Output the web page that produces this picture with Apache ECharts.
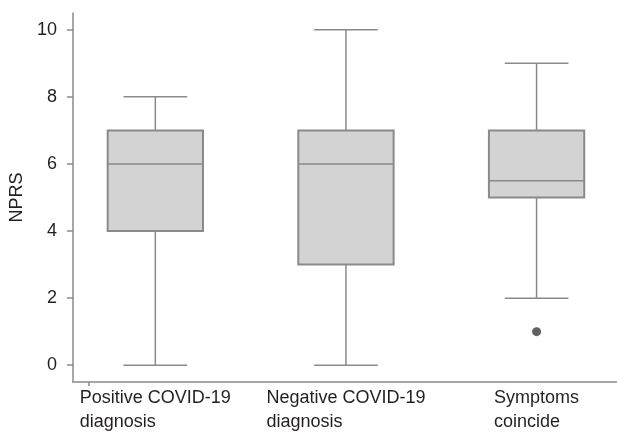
<!DOCTYPE html>
<html>
<head>
<meta charset="utf-8">
<script src="https://cdn.jsdelivr.net/npm/echarts@6/dist/echarts.min.js"></script>
<style>html,body{margin:0;padding:0;background:#fff;}#c{width:617px;height:434px;}</style>
</head>
<body>
<div id="c"></div>
<script>
// Data
var categories = ['Positive COVID-19\ndiagnosis', 'Negative COVID-19\ndiagnosis', 'Symptoms\ncoincide'];
var positions = [1, 2, 3];
var mins = [0, 0, 2];
var q1s = [4, 3, 5];
var medians = [6, 6, 5.5];
var q3s = [7, 7, 7];
var maxs = [8, 10, 9];
var outliers = [[3, 1]];
var yTicks = [0, 2, 4, 6, 8, 10];

var boxData = positions.map(function (p, i) {
  return [p, mins[i], q1s[i], medians[i], q3s[i], maxs[i]];
});

var BOX_HALF = 0.25, CAP_HALF = 0.167;
var lineCol = '#8a8a8a', fillCol = '#d3d3d3', textCol = '#231f20';

function renderItem(params, api) {
  var x = api.value(0);
  var mn = api.value(1), q1 = api.value(2), md = api.value(3), q3 = api.value(4), mx = api.value(5);
  var c = function (xx, yy) { return api.coord([xx, yy]); };
  var lt = c(x - BOX_HALF, q3), rb = c(x + BOX_HALF, q1);
  var ls = { stroke: lineCol, lineWidth: 1.5 };
  var pMin = c(x, mn), pQ1 = c(x, q1), pQ3 = c(x, q3), pMax = c(x, mx);
  var capMinL = c(x - CAP_HALF, mn), capMinR = c(x + CAP_HALF, mn);
  var capMaxL = c(x - CAP_HALF, mx), capMaxR = c(x + CAP_HALF, mx);
  var mL = c(x - BOX_HALF, md), mR = c(x + BOX_HALF, md);
  return {
    type: 'group',
    children: [
      { type: 'line', shape: { x1: pMin[0], y1: pMin[1], x2: pQ1[0], y2: pQ1[1] }, style: ls },
      { type: 'line', shape: { x1: pQ3[0], y1: pQ3[1], x2: pMax[0], y2: pMax[1] }, style: ls },
      { type: 'line', shape: { x1: capMinL[0], y1: capMinL[1], x2: capMinR[0], y2: capMinR[1] }, style: ls },
      { type: 'line', shape: { x1: capMaxL[0], y1: capMaxL[1], x2: capMaxR[0], y2: capMaxR[1] }, style: ls },
      { type: 'rect', shape: { x: lt[0], y: lt[1], width: rb[0] - lt[0], height: rb[1] - lt[1] },
        style: { fill: fillCol, stroke: lineCol, lineWidth: 2 } },
      { type: 'line', shape: { x1: mL[0], y1: mL[1], x2: mR[0], y2: mR[1] }, style: { stroke: lineCol, lineWidth: 1.6 } }
    ]
  };
}

var chart = echarts.init(document.getElementById('c'), null, { renderer: 'canvas' });
chart.setOption({
  animation: false,
  backgroundColor: '#ffffff',
  grid: { left: 69, right: 0, top: 13, bottom: 52, containLabel: false },
  xAxis: {
    type: 'value',
    min: 1 - 83 / 192,
    max: 3 + 81 / 192,
    splitLine: { show: false },
    axisLine: { show: true, onZero: false, lineStyle: { color: lineCol, width: 1.5 } },
    axisTick: { show: true, length: 4, customValues: [1 - 67 / 192], lineStyle: { color: lineCol, width: 1.5 } },
    axisLabel: {
      customValues: positions,
      margin: 4,
      align: 'center',
      formatter: function (v) {
        var idx = positions.indexOf(Math.round(v));
        if (idx < 0) return '';
        return categories[idx].split('\n').map(function (s) { return '{a|' + s + '}'; }).join('\n');
      },
      rich: { a: { fontFamily: 'Liberation Sans', fontSize: 18, color: textCol, lineHeight: 24, align: 'left' } }
    }
  },
  yAxis: {
    type: 'value',
    min: -0.5,
    max: 10.5,
    name: 'NPRS',
    nameLocation: 'middle',
    nameGap: 39,
    nameTextStyle: { fontFamily: 'Liberation Sans', fontSize: 18, color: textCol },
    splitLine: { show: false },
    axisLine: { show: true, onZero: false, lineStyle: { color: lineCol, width: 1.5 } },
    axisTick: { show: true, length: 6, customValues: yTicks, lineStyle: { color: lineCol, width: 1.5 } },
    axisLabel: { customValues: yTicks, margin: 16, fontFamily: 'Liberation Sans', fontSize: 18, color: textCol }
  },
  series: [
    {
      type: 'custom',
      renderItem: renderItem,
      data: boxData,
      encode: { x: 0, y: [1, 2, 3, 4, 5] },
      clip: false
    },
    {
      type: 'scatter',
      data: outliers,
      symbol: 'circle',
      symbolSize: 9,
      itemStyle: { color: '#3a3a3a' }
    }
  ]
});
</script>
</body>
</html>
